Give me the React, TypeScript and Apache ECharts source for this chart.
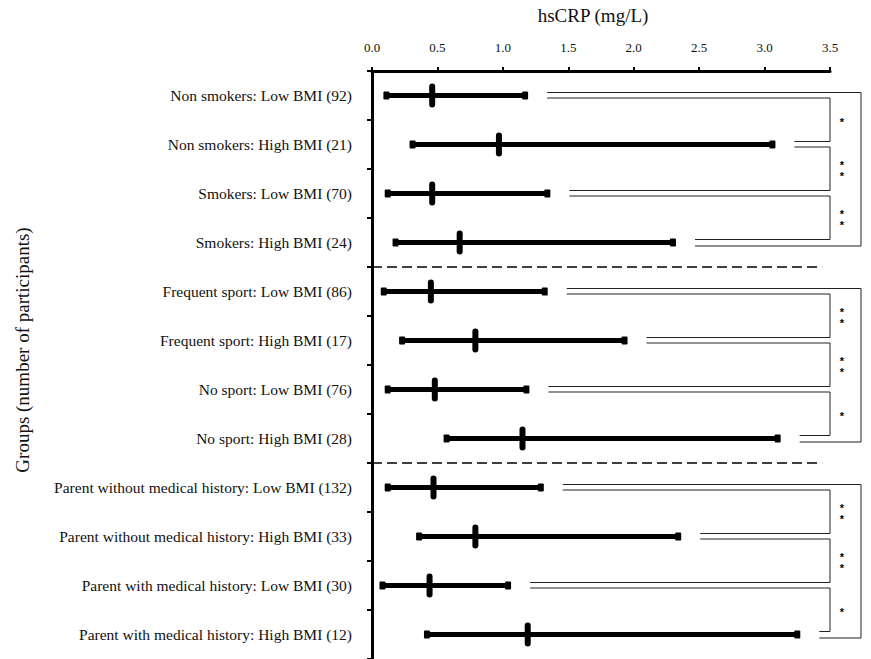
import React, { useEffect, useRef } from "react";
import * as echarts from "echarts";

const categories = [
  "Non smokers: Low BMI (92)",
  "Non smokers: High BMI (21)",
  "Smokers: Low BMI (70)",
  "Smokers: High BMI (24)",
  "Frequent sport: Low BMI (86)",
  "Frequent sport: High BMI (17)",
  "No sport: Low BMI (76)",
  "No sport: High BMI (28)",
  "Parent without medical history: Low BMI (132)",
  "Parent without medical history: High BMI (33)",
  "Parent with medical history: Low BMI (30)",
  "Parent with medical history: High BMI (12)",
];
const minVals = [0.11, 0.31, 0.12, 0.18, 0.09, 0.23, 0.12, 0.57, 0.12, 0.36, 0.08, 0.42];
const medVals = [0.46, 0.97, 0.46, 0.67, 0.45, 0.79, 0.48, 1.15, 0.47, 0.79, 0.44, 1.19];
const maxVals = [1.17, 3.06, 1.34, 2.3, 1.32, 1.93, 1.18, 3.1, 1.29, 2.34, 1.04, 3.25];
const tickLabels = ["0.0", "0.5", "1.0", "1.5", "2.0", "2.5", "3.0", "3.5"];
const pairRows = [
  [0, 1],
  [1, 2],
  [2, 3],
  [4, 5],
  [5, 6],
  [6, 7],
  [8, 9],
  [9, 10],
  [10, 11],
];
const pairLabels = ["*", "**", "**", "**", "**", "*", "**", "**", "*"];
const groupRows = [
  [0, 3],
  [4, 7],
  [8, 11],
];
const separatorsAfter = [3, 7];

export default function App() {
  const ref = useRef<HTMLDivElement>(null);
  useEffect(() => {
    document.body.style.margin = "0";
    const chart = echarts.init(ref.current!, null, { renderer: "svg" });
    const serif = "'Liberation Serif', 'Times New Roman', serif";
    const GAP = 22;
    const AXIS_MAX = 3.5;
    const whiskerData = categories.map((_, i) => [minVals[i], medVals[i], maxVals[i], i]);

    const star = (x: number, y: number) => ({
      type: "text",
      x,
      y,
      style: {
        text: "*",
        x: 0,
        y: 0,
        align: "center",
        verticalAlign: "middle",
        fontSize: 11,
        fontWeight: "bold",
        fontFamily: "'Liberation Sans', Arial, sans-serif",
        fill: "#000",
        stroke: "none",
        lineWidth: 0,
      },
    });

    chart.setOption({
      animation: false,
      color: ["#000"],
      grid: { left: 372, right: 41, top: 71, height: 588 },
      xAxis: {
        type: "value",
        position: "top",
        min: 0,
        max: 3.5,
        interval: 0.5,
        name: "hsCRP (mg/L)",
        nameLocation: "middle",
        nameGap: 46,
        nameTextStyle: { fontFamily: serif, fontSize: 19, color: "#111", padding: [0, 16, 0, 0] },
        axisLine: { show: true, lineStyle: { color: "#000", width: 3 } },
        axisTick: { show: true, length: 4, lineStyle: { color: "#000", width: 2 } },
        axisLabel: {
          fontFamily: serif,
          fontSize: 13,
          color: "#111",
          margin: 17,
          formatter: (v: number) => tickLabels[Math.round(v / 0.5)] ?? v.toFixed(1),
        },
        splitLine: { show: false },
      },
      yAxis: {
        type: "category",
        data: categories,
        inverse: true,
        name: "Groups (number of participants)",
        nameLocation: "middle",
        nameGap: 340,
        nameRotate: 90,
        nameTextStyle: { fontFamily: serif, fontSize: 19, color: "#111", padding: [0, 0, 0, 30] },
        axisLine: { show: true, onZero: false, lineStyle: { color: "#000", width: 3 } },
        axisTick: { show: true, length: 5, lineStyle: { color: "#000", width: 2 } },
        axisLabel: { fontFamily: serif, fontSize: 15.5, color: "#111", margin: 20 },
        splitLine: { show: false },
      },
      series: [
        {
          type: "custom",
          clip: false,
          itemStyle: { color: "#000" },
          data: whiskerData,
          encode: { x: [0, 1, 2], y: 3 },
          renderItem: (params: any, api: any) => {
            const row = api.value(3);
            const lo = api.coord([api.value(0), row]);
            const md = api.coord([api.value(1), row]);
            const hi = api.coord([api.value(2), row]);
            const y = lo[1];
            return {
              type: "group",
              children: [
                {
                  type: "line",
                  shape: { x1: lo[0], y1: y, x2: hi[0], y2: y },
                  style: { stroke: "#000", lineWidth: 5 },
                },
                {
                  type: "rect",
                  shape: { x: lo[0] - 3, y: y - 4, width: 6, height: 8, r: 1 },
                  style: { fill: "#000" },
                },
                {
                  type: "rect",
                  shape: { x: hi[0] - 3, y: y - 4, width: 6, height: 8, r: 1 },
                  style: { fill: "#000" },
                },
                {
                  type: "rect",
                  shape: { x: md[0] - 3, y: y - 12, width: 6, height: 24, r: 3 },
                  style: { fill: "#000" },
                },
              ],
            };
          },
        },
        {
          type: "custom",
          clip: false,
          itemStyle: { color: "#000" },
          data: pairRows,
          encode: { x: 0, y: 1 },
          renderItem: (params: any, api: any) => {
            const a = api.value(0);
            const b = api.value(1);
            const pa = api.coord([maxVals[a], a]);
            const pb = api.coord([maxVals[b], b]);
            const right = api.coord([AXIS_MAX, a])[0];
            const xa = pa[0] + GAP;
            const xb = pb[0] + GAP;
            const ya = pa[1] + 2.5;
            const yb = pb[1] - 3;
            const label = pairLabels[params.dataIndex];
            const mid = (ya + yb) / 2 + 2;
            const children: any[] = [
              {
                type: "polyline",
                shape: { points: [[xa, ya], [right, ya], [right, yb], [xb, yb]] },
                style: { stroke: "#222", lineWidth: 1, fill: "none" },
              },
            ];
            if (label === "**") {
              children.push(star(right + 12, mid - 5.5));
              children.push(star(right + 12, mid + 5.5));
            } else {
              children.push(star(right + 12, mid));
            }
            return { type: "group", children };
          },
        },
        {
          type: "custom",
          clip: false,
          data: groupRows,
          encode: { x: 0, y: 1 },
          renderItem: (params: any, api: any) => {
            const a = api.value(0);
            const b = api.value(1);
            const pa = api.coord([maxVals[a], a]);
            const pb = api.coord([maxVals[b], b]);
            const right = api.coord([AXIS_MAX, a])[0] + 31;
            const xa = pa[0] + GAP;
            const xb = pb[0] + GAP;
            const ya = pa[1] - 3;
            const yb = pb[1] + 3.5;
            return {
              type: "polyline",
              shape: { points: [[xa, ya], [right, ya], [right, yb], [xb, yb]] },
              style: { stroke: "#222", lineWidth: 1, fill: "none" },
            };
          },
        },
        {
          type: "custom",
          clip: false,
          data: separatorsAfter.map((r) => [0, r]),
          encode: { x: 0, y: 1 },
          renderItem: (params: any, api: any) => {
            const r = api.value(1);
            const p = api.coord([0, r]);
            const band = api.size([0, 1])[1];
            const y = p[1] + band / 2;
            const xEnd = api.coord([3.44, r])[0];
            return {
              type: "line",
              shape: { x1: p[0], y1: y, x2: xEnd, y2: y },
              style: { stroke: "#000", lineWidth: 1.3, lineDash: [10, 5] },
            };
          },
        },
      ],
    });
    return () => chart.dispose();
  }, []);
  return <div ref={ref} style={{ width: 871, height: 659 }} />;
}
